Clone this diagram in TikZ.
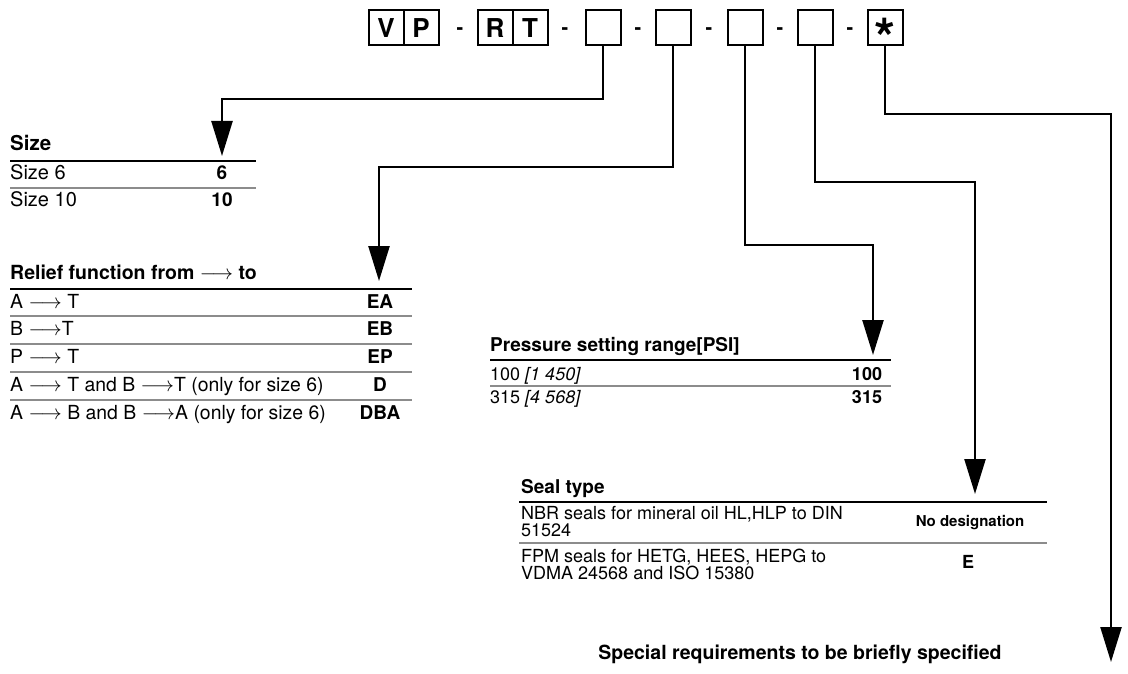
\documentclass[tikz,border=0pt]{standalone}
\usepackage{fontspec}
\setmainfont{TeX Gyre Heros}
\usetikzlibrary{arrows.meta,positioning}

\begin{document}
\begin{tikzpicture}[x=1pt,y=-1pt,
  cell/.style={draw,line width=2pt,minimum size=35pt,inner sep=0pt,outer sep=0pt,font=\fontsize{26}{26}\selectfont\bfseries},
  dsh/.style={anchor=base,inner sep=0pt,font=\fontsize{20}{20}\selectfont\bfseries},
  lead/.style={line width=2.4pt,-{Triangle[length=35pt,width=21pt]}},
  hrule/.style={line width=2.8pt},
  rrule/.style={line width=1.3pt,black!45},
  ttl/.style={anchor=base west,inner sep=0pt,font=\fontsize{#1}{#1}\selectfont\bfseries},
  ttl/.default=19,
  txt/.style={anchor=base west,inner sep=0pt,font=\fontsize{#1}{#1}\selectfont},
  txt/.default=18,
  val/.style={anchor=base,inner sep=0pt,font=\fontsize{#1}{#1}\selectfont\bfseries},
  val/.default=18]
\useasboundingbox (0,0) rectangle (1128,674);
\node[cell] (v) at (386,28) {V};
\node[cell,right=0pt of v] (p) {P};
\node[cell] (r) at (495,28) {R};
\node[cell,right=0pt of r] (t) {T};
\node[cell] (b3) at (603,28) {};
\node[cell] (b4) at (673,28) {};
\node[cell] (b5) at (745,28) {};
\node[cell] (b6) at (815,28) {};
\node[cell] (b7) at (885,28) {};
\node[anchor=base,inner sep=0pt,font=\fontsize{54}{54}\selectfont\bfseries] (st) at ([yshift=-30pt]b7.center) {*};
\foreach \x/\n in {460/d1,565/d2,638/d3,709/d4,780/d5,850/d6}
  \node[dsh] (\n) at (\x,35) {-};

\coordinate (c1) at (222,156);
\coordinate (c2) at (379,281);
\coordinate (c3) at (873,355);
\coordinate (c4) at (975,494);
\coordinate (c5) at (1111,662);
\draw[lead] (b3.south) -- ++(0,53.5) -| (c1);
\draw[lead] (b4.south) -- ++(0,121.5) -| (c2);
\draw[lead] (b5.south) -- ++(0,199.5) -| (c3);
\draw[lead] (b6.south) -- ++(0,136.5) -| (c4);
\draw[lead] (b7.south) -- ++(0,68.5) -| (c5);

\node[ttl=20.5] (sz) at (10,151) {Size};
\draw[hrule] (10,161) -- (256,161);
\node[txt=20] (sz1) at (10,179) {Size 6};
\node[val=19] (sz1v) at (222,179) {6};
\draw[rrule] (10,188) -- (256,188);
\node[txt=20] (sz2) at (10,207) {Size 10};
\node[val=19] (sz2v) at (222,207) {10};

\node[ttl=19.5] (rf) at (10,279) {Relief function from $\longrightarrow$ to};
\draw[hrule] (10,289) -- (412,289);
\node[txt=19.4] (rf1) at (10,308) {A $\longrightarrow$ T};
\node[val=19] (rf1v) at (380,308) {EA};
\draw[rrule] (10,316) -- (412,316);
\node[txt=19.4] (rf2) at (10,335) {B $\longrightarrow$T};
\node[val=19] (rf2v) at (380,335) {EB};
\draw[rrule] (10,344) -- (412,344);
\node[txt=19.4] (rf3) at (10,363) {P $\longrightarrow$ T};
\node[val=19] (rf3v) at (380,363) {EP};
\draw[rrule] (10,372) -- (412,372);
\node[txt=19.4] (rf4) at (10,391) {A $\longrightarrow$ T and B $\longrightarrow$T (only for size 6)};
\node[val=19] (rf4v) at (380,391) {D};
\draw[rrule] (10,400) -- (412,400);
\node[txt=19.4] (rf5) at (10,419) {A $\longrightarrow$ B and B $\longrightarrow$A (only for size 6)};
\node[val=19] (rf5v) at (380,419) {DBA};

\node[ttl] (pr) at (490,351) {Pressure setting range[PSI]};
\draw[hrule] (490,360) -- (891,360);
\node[txt] (pr1) at (490,380) {100 \textit{[1 450]}};
\node[val] (pr1v) at (867,380) {100};
\draw[rrule] (490,386) -- (891,386);
\node[txt] (pr2) at (490,403) {315 \textit{[4 568]}};
\node[val] (pr2v) at (867,403) {315};

\node[ttl] (sl) at (521,493) {Seal type};
\draw[hrule] (519,502) -- (1047,502);
\node[anchor=west,align=left,inner sep=0pt,font=\fontsize{18}{17}\selectfont] (sl1) at (521,521.5) {NBR seals for mineral oil HL,HLP to DIN\\51524};
\node[inner sep=0pt,font=\fontsize{15}{15}\selectfont\bfseries] (sl1v) at (970,523) {No designation};
\draw[rrule] (519,543) -- (1047,543);
\node[anchor=west,align=left,inner sep=0pt,font=\fontsize{18}{17}\selectfont] (sl2) at (521,564) {FPM seals for HETG, HEES, HEPG to\\VDMA 24568 and ISO 15380};
\node[val] (sl2v) at (968,568) {E};

\node[anchor=base,inner sep=0pt,font=\fontsize{19.5}{19.5}\selectfont\bfseries] (sp) at (800,659) {Special requirements to be briefly specified};
\end{tikzpicture}
\end{document}
